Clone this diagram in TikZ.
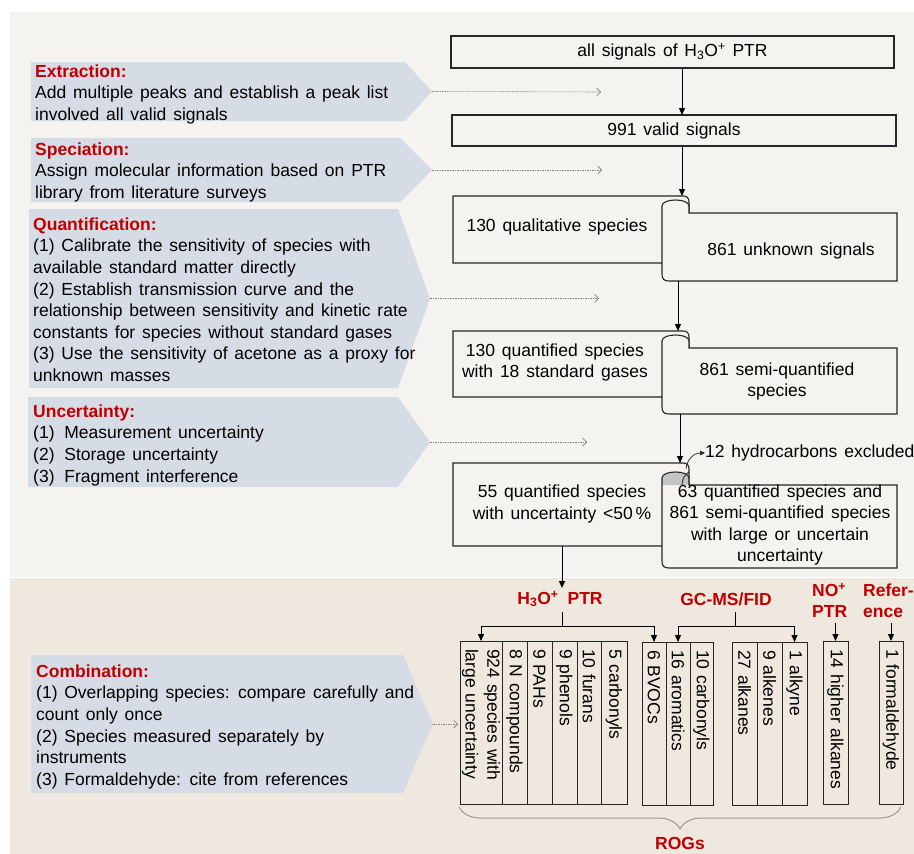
\documentclass[tikz,border=0pt]{standalone}
\usepackage{fontspec}
\setmainfont{Liberation Sans}[WordSpace=1.4]
\usetikzlibrary{arrows.meta,decorations.pathreplacing}
\definecolor{bgtop}{HTML}{F4F3EF}
\definecolor{bgbot}{HTML}{EEE8DE}
\definecolor{arrowfill}{HTML}{D6DCE5}
\definecolor{titlered}{HTML}{C00000}
\definecolor{curlgray}{HTML}{C4C4C4}
\newcommand\mydocshape[5]{%
 \draw[boxline] (662,#2) -- (453,#2) -- (453,#1) -- (683,#1) .. controls (687,#1) and (689,#1+2) .. (689,#1+6) -- (689,#3);
 \fill[#5] (662,#3-7) .. controls (662,#3-15) and (689,#3-15) .. (689,#3-7) -- (689,#3) -- (662,#3) -- cycle;
 \draw[boxline] (689,#3-7) .. controls (689,#3-15) and (662,#3-15) .. (662,#3-7) -- (662,#4-7) .. controls (662,#4-2) and (664,#4) .. (669,#4) -- (897,#4) -- (897,#3) -- (689,#3) -- cycle;
}
\tikzset{
 boxline/.style={draw=black!85, line width=1.1pt},
 box/.style={draw=black!85, line width=1.1pt, outer sep=0pt, inner sep=0pt, align=center},
 arr/.style={black, line width=1pt, -{Triangle[length=7pt,width=6pt]}},
 plain/.style={black, line width=1pt},
 dotarr/.style={gray, line width=0.6pt, dash pattern=on 1.5pt off 1pt, -{Straight Barb[length=4pt,width=8pt]}},
 desc/.style={anchor=north west, inner sep=0pt, align=left},
 lbl/.style={text=titlered, font=\fontsize{17.5}{21}\selectfont\bfseries, inner sep=0pt, align=left},
 dtext/.style={align=center, inner sep=0pt},
 col/.style={draw=black!85, line width=1pt, rotate=-90, minimum width=163pt, inner xsep=8pt, inner ysep=0pt, text width=147pt, align=left, outer sep=0pt},
}
\begin{document}
\begin{tikzpicture}[x=1pt,y=-1pt, font=\fontsize{17.5}{21.6}\selectfont]
\useasboundingbox (0,0) rectangle (914,854);
\fill[white] (0,0) rectangle (914,854);
\fill[bgtop] (10,12) rectangle (914,577);
\fill[bgbot] (10,578) rectangle (914,854);

% left step arrows
\fill[arrowfill] (31,62) -- (405,62) -- (432,91.5) -- (405,121) -- (31,121) -- cycle;
\fill[arrowfill] (31,138) -- (400,138) -- (432,170) -- (400,202) -- (31,202) -- cycle;
\fill[arrowfill] (29,209) -- (398,209) -- (430,298.5) -- (398,388) -- (29,388) -- cycle;
\fill[arrowfill] (28,397) -- (398,397) -- (430,442) -- (398,487) -- (28,487) -- cycle;
\fill[arrowfill] (31,655) -- (403,655) -- (433,724) -- (403,793) -- (31,793) -- cycle;
\coordinate (tip1) at (432,91.5);
\coordinate (tip2) at (432,170);
\coordinate (tip3) at (430,298.5);
\coordinate (tip4) at (430,442);
\coordinate (tip5) at (433,724);

\node[desc] (s1) at (35,64.5) {\textcolor{titlered}{\bfseries Extraction:}\\Add multiple peaks and establish a peak list\\involved all valid signals};
\node[desc] (s2) at (35,142.5) {\textcolor{titlered}{\bfseries Speciation:}\\Assign molecular information based on PTR\\library from literature surveys};
\node[desc] (s3) at (33,217.5) {\textcolor{titlered}{\bfseries Quantification:}\\(1) Calibrate the sensitivity of species with\\available standard matter directly\\(2) Establish transmission curve and the\\relationship between sensitivity and kinetic rate\\constants for species without standard gases\\(3) Use the sensitivity of acetone as a proxy for\\unknown masses};
\node[desc] (s4) at (33,404.5) {\textcolor{titlered}{\bfseries Uncertainty:}\\(1)\hspace{3pt} Measurement uncertainty\\(2)\hspace{3pt} Storage uncertainty\\(3)\hspace{3pt} Fragment interference};
\node[desc] (s5) at (36,664.5) {\textcolor{titlered}{\bfseries Combination:}\\(1) Overlapping species: compare carefully and\\count only once\\(2) Species measured separately by\\instruments\\(3) Formaldehyde: cite from references};

\coordinate (e1) at (601,92);
\coordinate (e2) at (602,170);
\coordinate (e3) at (599,298.5);
\coordinate (e4) at (587,442);
\coordinate (e5) at (458,724);
\draw[dotarr] (tip1) -- (e1);
\draw[dotarr] (tip2) -- (e2);
\draw[dotarr] (tip3) -- (e3);
\draw[dotarr] (tip4) -- (e4);
\draw[dotarr] (tip5) -- (e5);

% top boxes
\node[box, minimum width=443pt, minimum height=32pt] (b1) at (672.5,52) {all signals of H\textsubscript{3}O\textsuperscript{+} PTR};
\node[box, minimum width=444pt, minimum height=31pt] (b2) at (674,130.5) {991 valid signals};

% document shapes
\mydocshape{196}{263}{213}{281}{bgtop}
\mydocshape{331}{397}{348}{414}{bgtop}
\mydocshape{463}{546}{485}{568}{curlgray}
\draw[boxline, line width=0.8pt] (682,485) .. controls (682,479) and (685,474) .. (689,472);

\node[dtext] (d1l) at (557,227) {130 qualitative species};
\node[dtext] (d1r) at (791,251) {861 unknown signals};
\node[dtext] (d2l) at (555,362.5) {130 quantified species\\with 18 standard gases};
\node[dtext] (d2r) at (777,381.5) {861 semi-quantified\\species};
\node[dtext] (d3l) at (562,504) {55 quantified species\\with uncertainty <50\,\%};
\node[dtext] (d3r) at (780,525) {63 quantified species and\\861 semi-quantified species\\with large or uncertain\\uncertainty};
\node[anchor=west, inner sep=0pt] (hc) at (705,453) {12 hydrocarbons excluded};

\coordinate (ax) at (682,0);
\coordinate (d1top) at (682,196);
\coordinate (d1bot) at (678,281);
\coordinate (d2top) at (678,331);
\coordinate (d2bot) at (680,414);
\coordinate (d3top) at (680,463);
\coordinate (d3bot) at (562,546);
\coordinate (curl) at (686,469);
\draw[arr] (b1.south -| ax) -- (b2.north -| ax);
\draw[arr] (b2.south -| ax) -- (d1top);
\draw[arr] (d1bot) -- (d2top);
\draw[arr] (d2bot) -- (d3top);
\draw[black!85, line width=0.7pt, -{Triangle[length=5pt,width=4.5pt]}] (curl) .. controls (687,459) and (694,453) .. (hc.west);

% bottom section labels
\node[lbl] (h3o) at (560,599) {H\textsubscript{3}O\textsuperscript{+}\hspace{9pt}PTR};
\node[lbl] (gc) at (726,599) {GC-MS/FID};
\node[lbl, anchor=west] (no) at (812,600.5) {NO\textsuperscript{+}\\PTR};
\node[lbl, anchor=west] (ref) at (863,600.5) {Refer-\\ence};
\draw[arr] (d3bot) -- (562,588);

% columns
\node[col, minimum height=42pt] (c1) at (481,722.5) {924 species with\\large uncertainty};
\node[col, minimum height=25pt] (c2) at (514.5,722.5) {8 N compounds};
\node[col, minimum height=25pt] (c3) at (539.5,722.5) {9 PAHs};
\node[col, minimum height=25pt] (c4) at (564.5,722.5) {9 phenols};
\node[col, minimum height=24pt] (c5) at (589,722.5) {10 furans};
\node[col, minimum height=26pt] (c6) at (614,722.5) {5 carbonyls};
\node[col, minimum height=24pt] (g1) at (654,723.5) {6 BVOCs};
\node[col, minimum height=24pt] (g2) at (678,723.5) {16 aromatics};
\node[col, minimum height=23pt] (g3) at (701.5,723.5) {10 carbonyls};
\node[col, minimum height=25pt] (k1) at (744.5,723.5) {27 alkanes};
\node[col, minimum height=25pt] (k2) at (769.5,723.5) {9 alkenes};
\node[col, minimum height=25pt] (k3) at (794.5,723.5) {1 alkyne};
\node[col, minimum height=25pt] (n1) at (835.5,722.5) {14 higher alkanes};
\node[col, minimum height=24pt] (r1) at (891,722.5) {1 formaldehyde};

% tree connectors
\coordinate (hs) at (562,626);
\coordinate (gs) at (735,626);
\draw[plain] (562,612) -- (hs);
\draw[arr] (hs) -| (c1.west);
\draw[arr] (hs) -| (g1.west);
\draw[plain] (735,612) -- (gs);
\draw[arr] (gs) -| (g2.west);
\draw[arr] (gs) -| (k3.west);
\draw[arr] (835.5,623) -- (n1.west);
\draw[arr] (891,623) -- (r1.west);

% brace
\draw[black!40, line width=1pt, decorate, decoration={brace, mirror, amplitude=22pt}] (459,807) -- (901,807);
\node[lbl] (rogs) at (680,843) {ROGs};
\end{tikzpicture}
\end{document}
